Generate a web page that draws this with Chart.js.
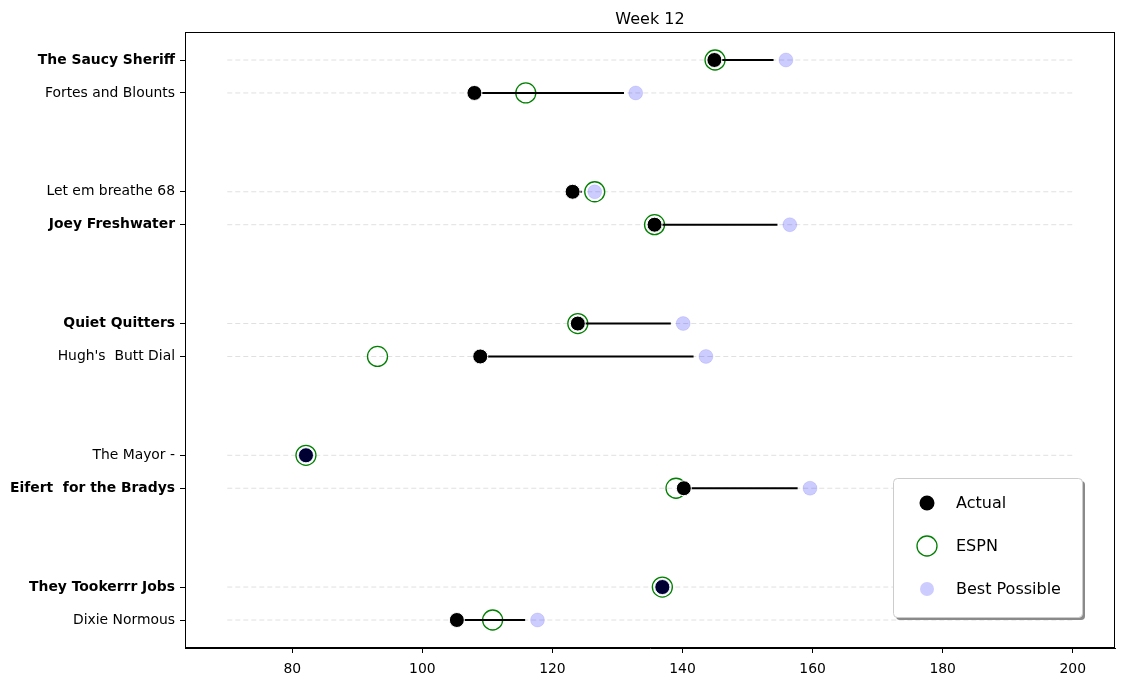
<!DOCTYPE html>
<html>
<head>
    <title>Week 12</title>
    <script src="https://cdn.jsdelivr.net/npm/chart.js"></script>
    <style>
        body { margin: 0; background: #fff; }
    </style>
</head>
<body>
    <canvas id="chart" width="1124" height="682"></canvas>

    <script>
        // Teams, listed top to bottom, two per matchup
        const teams = ['The Saucy Sheriff', 'Fortes and Blounts', 'Let em breathe 68', 'Joey Freshwater',
            'Quiet Quitters', "Hugh's  Butt Dial", 'The Mayor -', 'Eifert  for the Bradys',
            'They Tookerrr Jobs', 'Dixie Normous'];
        const actual   = [144.9, 108.0, 123.1, 135.7, 123.9, 108.9, 82.1, 140.2, 136.9, 105.3];
        const espn     = [145.0, 115.9, 126.5, 135.7, 123.9,  93.1, 82.1, 139.0, 136.9, 110.8];
        const best     = [155.9, 132.8, 126.5, 156.5, 140.1, 143.6, 82.1, 159.6, 136.9, 117.7];
        const lineEnd  = [154.0, 131.0, 124.5, 154.6, 138.2, 141.7, 82.1, 157.7, 136.9, 115.8];
        const guideRange = [70, 200];
        const xTicks = [80, 100, 120, 140, 160, 180, 200];

        // row of each team: pairs separated by two empty rows
        const rows = teams.map((t, i) => Math.floor(i / 2) * 4 + (i % 2));
        // winner of each matchup gets a bold label
        const winners = teams.map((t, i) => {
            const other = i % 2 === 0 ? i + 1 : i - 1;
            return actual[i] > actual[other];
        });

        const FONT = 'DejaVu Sans';

        const guideSets = teams.map((t, i) => ({
            type: 'scatter',
            data: [{ x: guideRange[0], y: rows[i] }, { x: guideRange[1], y: rows[i] }],
            showLine: true,
            borderColor: '#e0e0e0',
            borderWidth: 1,
            borderDash: [5, 3],
            pointRadius: 0,
            order: 5
        }));

        const spanSets = teams.map((t, i) => ({
            type: 'scatter',
            data: [{ x: actual[i], y: rows[i] }, { x: lineEnd[i], y: rows[i] }],
            showLine: true,
            borderColor: '#000',
            borderWidth: 2,
            pointRadius: 0,
            order: 3
        }));

        const markerSets = [
            {
                label: 'Actual',
                data: teams.map((t, i) => ({ x: actual[i], y: rows[i] })),
                backgroundColor: '#000',
                borderColor: '#fff',
                borderWidth: 1,
                pointRadius: 7.5,
                order: 2
            },
            {
                label: 'ESPN',
                data: teams.map((t, i) => ({ x: espn[i], y: rows[i] })),
                backgroundColor: 'rgba(0,0,0,0)',
                borderColor: 'green',
                borderWidth: 1.3,
                pointRadius: 10,
                order: 4
            },
            {
                label: 'Best Possible',
                data: teams.map((t, i) => ({ x: best[i], y: rows[i] })),
                backgroundColor: 'rgba(0,0,255,0.2)',
                borderColor: 'rgba(0,0,255,0.1)',
                borderWidth: 1,
                pointRadius: 7,
                order: 1
            }
        ];

        // frame, title and the boxed legend
        const extras = {
            id: 'extras',
            afterDraw(chart) {
                const ctx = chart.ctx;
                const a = chart.chartArea;
                ctx.save();
                ctx.strokeStyle = '#000';
                ctx.lineWidth = 1;
                ctx.strokeRect(Math.round(a.left) + 0.5, Math.round(a.top) + 0.5,
                    Math.round(a.width) - 1, Math.round(a.height) - 1);

                ctx.fillStyle = '#000';
                ctx.font = '16px "' + FONT + '"';
                ctx.textAlign = 'center';
                ctx.textBaseline = 'middle';
                ctx.fillText('Week 12', (a.left + a.right) / 2, 20);

                // legend box
                const bx = 893, by = 478, bw = 189, bh = 139;
                ctx.fillStyle = '#8a8a8a';
                ctx.beginPath();
                ctx.roundRect(bx + 3, by + 3, bw, bh, 4);
                ctx.fill();
                ctx.fillStyle = '#fff';
                ctx.strokeStyle = '#cccccc';
                ctx.beginPath();
                ctx.roundRect(bx + 0.5, by + 0.5, bw, bh, 4);
                ctx.fill();
                ctx.stroke();

                ctx.textAlign = 'left';
                ctx.font = '16px "' + FONT + '"';
                markerSets.forEach((ds, k) => {
                    const cy = by + 25 + k * 43;
                    ctx.beginPath();
                    ctx.arc(bx + 34, cy, ds.pointRadius, 0, Math.PI * 2);
                    ctx.fillStyle = ds.backgroundColor;
                    ctx.fill();
                    if (ds.label === 'ESPN') {
                        ctx.strokeStyle = ds.borderColor;
                        ctx.lineWidth = ds.borderWidth;
                        ctx.stroke();
                    }
                    ctx.fillStyle = '#000';
                    ctx.fillText(ds.label, bx + 63, cy + 1);
                });
                ctx.restore();
            }
        };

        new Chart(document.getElementById('chart'), {
            type: 'scatter',
            data: { datasets: [...markerSets, ...spanSets, ...guideSets] },
            options: {
                responsive: false,
                animation: false,
                events: [],
                layout: { autoPadding: false, padding: { top: 32, right: 9, left: 0, bottom: 0 } },
                plugins: {
                    legend: { display: false },
                    tooltip: { enabled: false },
                    title: { display: false }
                },
                scales: {
                    x: {
                        type: 'linear',
                        min: 63.5,
                        max: 206.5,
                        afterBuildTicks: s => { s.ticks = xTicks.map(v => ({ value: v })); },
                        afterFit: s => { s.height = 34; s.paddingLeft = 0; s.paddingRight = 0; },
                        grid: { drawOnChartArea: false, drawTicks: true, tickLength: 5, color: '#000' },
                        border: { display: true, color: '#000' },
                        ticks: { color: '#000', padding: 8, font: { family: FONT, size: 13.9 } }
                    },
                    y: {
                        type: 'linear',
                        reverse: true,
                        min: -0.85,
                        max: 17.85,
                        afterBuildTicks: s => { s.ticks = rows.map(v => ({ value: v })); },
                        afterFit: s => { s.width = 185; s.paddingTop = 0; s.paddingBottom = 0; },
                        grid: { drawOnChartArea: false, drawTicks: true, tickLength: 5, color: '#000' },
                        border: { display: true, color: '#000' },
                        ticks: {
                            color: '#000',
                            padding: 5,
                            autoSkip: false,
                            callback: v => teams[rows.indexOf(v)],
                            font: c => ({
                                family: FONT,
                                size: 13.9,
                                weight: winners[rows.indexOf(c.tick ? c.tick.value : -1)] ? 'bold' : 'normal'
                            })
                        }
                    }
                }
            },
            plugins: [extras]
        });
    </script>
</body>
</html>
